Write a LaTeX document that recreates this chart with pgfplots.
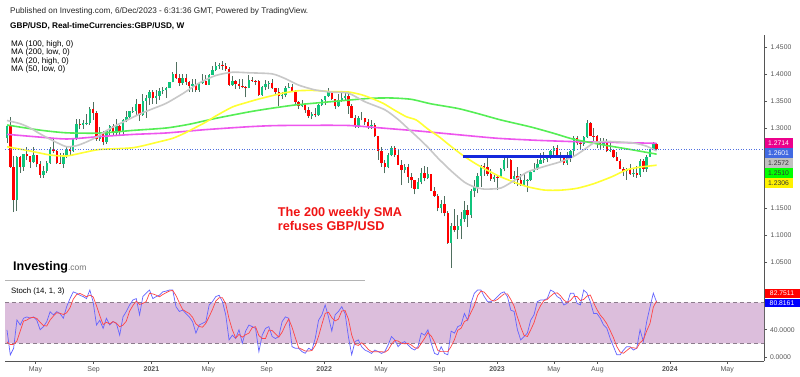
\documentclass[border=0pt]{standalone}
\usepackage{fontspec}
\setmainfont{Liberation Sans}
\usepackage{pgfplots}
\usepackage{pgfplotstable}
\pgfplotsset{compat=1.18}
\definecolor{upc}{HTML}{10C47C}
\definecolor{dnc}{HTML}{FF0000}
\definecolor{wickc}{HTML}{4F6F5F}
\definecolor{maGray}{HTML}{C8C8C8}
\definecolor{maYel}{HTML}{FFFF33}
\definecolor{maGrn}{HTML}{55EE55}
\definecolor{maMag}{HTML}{EE55EE}
\definecolor{axgray}{HTML}{555555}
\definecolor{labc}{HTML}{555555}
\definecolor{bandc}{HTML}{DCBEDC}
\definecolor{dashc}{HTML}{8C7C8C}
\definecolor{kblue}{HTML}{6464FF}
\definecolor{dred}{HTML}{FF4545}
\definecolor{pxblue}{HTML}{4169E1}
\definecolor{trend}{HTML}{1428DC}
\definecolor{dotc}{HTML}{5070E0}
\definecolor{txtred}{HTML}{F01414}
\definecolor{sepc}{HTML}{B4B4B4}

\pgfplotstableread{
w O H L C
0 1.2810 1.3065 1.2725 1.3045
1 1.3045 1.3200 1.2260 1.2280
2 1.2280 1.2480 1.1430 1.1650
3 1.1650 1.2485 1.1450 1.2460
4 1.2460 1.2480 1.2165 1.2270
5 1.2270 1.2515 1.2200 1.2510
6 1.2510 1.2650 1.2400 1.2475
7 1.2475 1.2480 1.2250 1.2370
8 1.2370 1.2645 1.2350 1.2490
9 1.2490 1.2500 1.2265 1.2335
10 1.2335 1.2375 1.2075 1.2130
11 1.2130 1.2300 1.2075 1.2205
12 1.2205 1.2390 1.2160 1.2345
13 1.2345 1.2650 1.2335 1.2600
14 1.2600 1.2813 1.2530 1.2570
15 1.2570 1.2590 1.2335 1.2350
16 1.2350 1.2540 1.2335 1.2330
17 1.2330 1.2530 1.2250 1.2470
18 1.2470 1.2670 1.2440 1.2610
19 1.2610 1.2650 1.2480 1.2570
20 1.2570 1.2810 1.2550 1.2790
21 1.2790 1.3170 1.2780 1.3080
22 1.3080 1.3170 1.2980 1.3060
23 1.3060 1.3140 1.2985 1.3090
24 1.3090 1.3265 1.3055 1.3100
25 1.3100 1.3395 1.3060 1.3350
26 1.3350 1.3482 1.3150 1.3280
27 1.3280 1.3310 1.2760 1.2790
28 1.2790 1.3010 1.2765 1.2925
29 1.2925 1.2950 1.2675 1.2745
30 1.2745 1.2950 1.2710 1.2935
31 1.2935 1.3060 1.2865 1.3045
32 1.3045 1.3080 1.2865 1.2915
33 1.2915 1.3175 1.2865 1.3040
34 1.3040 1.3060 1.2855 1.2945
35 1.2945 1.3175 1.2855 1.3150
36 1.3150 1.3310 1.3105 1.3205
37 1.3205 1.3325 1.3170 1.3310
38 1.3310 1.3400 1.3280 1.3325
39 1.3325 1.3540 1.3225 1.3440
40 1.3440 1.3455 1.3135 1.3235
41 1.3235 1.3625 1.3225 1.3510
42 1.3510 1.3620 1.3190 1.3555
43 1.3555 1.3705 1.3430 1.3680
44 1.3680 1.3705 1.3450 1.3565
45 1.3565 1.3710 1.3450 1.3605
46 1.3605 1.3745 1.3520 1.3690
47 1.3690 1.3760 1.3625 1.3700
48 1.3700 1.3760 1.3565 1.3740
49 1.3740 1.3865 1.3740 1.3850
50 1.3850 1.4050 1.3850 1.4010
51 1.4010 1.4240 1.3915 1.3925
52 1.3925 1.4015 1.3780 1.3840
53 1.3840 1.4015 1.3805 1.3935
54 1.3935 1.4000 1.3805 1.3865
55 1.3865 1.3880 1.3670 1.3785
56 1.3785 1.3920 1.3670 1.3830
57 1.3830 1.3920 1.3670 1.3705
58 1.3705 1.3855 1.3680 1.3840
59 1.3840 1.4010 1.3830 1.3875
60 1.3875 1.3995 1.3805 1.3805
61 1.3805 1.4000 1.3800 1.3990
62 1.3990 1.4165 1.3990 1.4090
63 1.4090 1.4235 1.4070 1.4150
64 1.4150 1.4220 1.4100 1.4180
65 1.4180 1.4250 1.4080 1.4155
66 1.4155 1.4220 1.4070 1.4110
67 1.4110 1.4130 1.3785 1.3805
68 1.3805 1.3975 1.3790 1.3880
69 1.3880 1.3890 1.3730 1.3830
70 1.3830 1.3910 1.3730 1.3790
71 1.3790 1.3910 1.3740 1.3760
72 1.3760 1.3780 1.3570 1.3745
73 1.3745 1.3985 1.3740 1.3900
74 1.3900 1.3960 1.3860 1.3880
75 1.3880 1.3890 1.3800 1.3870
76 1.3870 1.3890 1.3600 1.3620
77 1.3620 1.3790 1.3600 1.3760
78 1.3760 1.3890 1.3700 1.3820
79 1.3820 1.3880 1.3730 1.3840
80 1.3840 1.3910 1.3735 1.3740
81 1.3740 1.3750 1.3610 1.3680
82 1.3680 1.3750 1.3410 1.3590
83 1.3590 1.3670 1.3545 1.3610
84 1.3610 1.3775 1.3570 1.3745
85 1.3745 1.3835 1.3740 1.3760
86 1.3760 1.3830 1.3670 1.3680
87 1.3680 1.3700 1.3425 1.3490
88 1.3490 1.3510 1.3350 1.3410
89 1.3410 1.3515 1.3390 1.3440
90 1.3440 1.3445 1.3280 1.3330
91 1.3330 1.3400 1.3190 1.3230
92 1.3230 1.3300 1.3160 1.3270
93 1.3270 1.3375 1.3200 1.3235
94 1.3235 1.3440 1.3230 1.3430
95 1.3430 1.3550 1.3410 1.3530
96 1.3530 1.3600 1.3430 1.3590
97 1.3590 1.3750 1.3580 1.3680
98 1.3680 1.3685 1.3520 1.3550
99 1.3550 1.3550 1.3360 1.3405
100 1.3405 1.3630 1.3400 1.3530
101 1.3530 1.3645 1.3490 1.3565
102 1.3565 1.3645 1.3520 1.3590
103 1.3590 1.3640 1.3270 1.3410
104 1.3410 1.3440 1.3180 1.3190
105 1.3190 1.3250 1.3000 1.3030
106 1.3030 1.3215 1.3000 1.3180
107 1.3180 1.3300 1.3140 1.3180
108 1.3180 1.3180 1.3050 1.3115
109 1.3115 1.3165 1.2980 1.3040
110 1.3040 1.3145 1.2980 1.3065
111 1.3065 1.3090 1.2830 1.2845
112 1.2845 1.2850 1.2410 1.2570
113 1.2570 1.2640 1.2275 1.2340
114 1.2340 1.2400 1.2155 1.2265
115 1.2265 1.2525 1.2250 1.2490
116 1.2490 1.2665 1.2470 1.2620
117 1.2620 1.2665 1.2460 1.2490
118 1.2490 1.2600 1.2310 1.2310
119 1.2310 1.2405 1.1935 1.2220
120 1.2220 1.2325 1.2160 1.2270
121 1.2270 1.2330 1.1975 1.2095
122 1.2095 1.2165 1.1875 1.2025
123 1.2025 1.2030 1.1760 1.1870
124 1.1870 1.2065 1.1860 1.2000
125 1.2000 1.2245 1.1950 1.2165
126 1.2165 1.2295 1.2005 1.2075
127 1.2075 1.2275 1.2055 1.2135
128 1.2135 1.2145 1.1820 1.1830
129 1.1830 1.1900 1.1720 1.1730
130 1.1730 1.1760 1.1445 1.1510
131 1.1510 1.1660 1.1405 1.1590
132 1.1590 1.1740 1.1350 1.1410
133 1.1410 1.1460 1.0840 1.0855
134 1.0855 1.1235 1.0390 1.1165
135 1.1165 1.1495 1.1055 1.1090
136 1.1090 1.1380 1.0925 1.1175
137 1.1175 1.1440 1.0925 1.1300
138 1.1300 1.1645 1.1255 1.1470
139 1.1470 1.1565 1.1150 1.1380
140 1.1380 1.1855 1.1330 1.1825
141 1.1825 1.2030 1.1710 1.1890
142 1.1890 1.2155 1.1780 1.2110
143 1.2110 1.2310 1.1900 1.2285
144 1.2285 1.2345 1.2105 1.2265
145 1.2265 1.2445 1.2110 1.2150
146 1.2150 1.2240 1.2020 1.2050
147 1.2050 1.2120 1.1990 1.2095
148 1.2095 1.2130 1.1840 1.2090
149 1.2090 1.2245 1.2085 1.2230
150 1.2230 1.2435 1.2190 1.2395
151 1.2395 1.2450 1.2260 1.2395
152 1.2395 1.2420 1.2050 1.2050
153 1.2050 1.2195 1.1960 1.2110
154 1.2110 1.2270 1.1915 1.2030
155 1.2030 1.2145 1.1925 1.1945
156 1.1945 1.2145 1.1915 1.2030
157 1.2030 1.2050 1.1805 1.2035
158 1.2035 1.2205 1.2010 1.2175
159 1.2175 1.2345 1.2170 1.2235
160 1.2235 1.2425 1.2220 1.2335
161 1.2335 1.2525 1.2330 1.2410
162 1.2410 1.2545 1.2345 1.2415
163 1.2415 1.2475 1.2365 1.2445
164 1.2445 1.2585 1.2415 1.2570
165 1.2570 1.2665 1.2440 1.2635
166 1.2635 1.2680 1.2445 1.2450
167 1.2450 1.2545 1.2390 1.2445
168 1.2445 1.2470 1.2305 1.2345
169 1.2345 1.2545 1.2310 1.2450
170 1.2450 1.2595 1.2370 1.2575
171 1.2575 1.2850 1.2480 1.2820
172 1.2820 1.2845 1.2685 1.2715
173 1.2715 1.2740 1.2590 1.2695
174 1.2695 1.2850 1.2670 1.2840
175 1.2840 1.3142 1.2810 1.3090
176 1.3090 1.3115 1.2845 1.2855
177 1.2855 1.2995 1.2765 1.2850
178 1.2850 1.2870 1.2620 1.2745
179 1.2745 1.2820 1.2615 1.2690
180 1.2690 1.2815 1.2630 1.2735
181 1.2735 1.2800 1.2550 1.2580
182 1.2580 1.2745 1.2545 1.2585
183 1.2585 1.2610 1.2445 1.2465
184 1.2465 1.2550 1.2375 1.2380
185 1.2380 1.2425 1.2230 1.2240
186 1.2240 1.2270 1.2105 1.2200
187 1.2200 1.2260 1.2035 1.2240
188 1.2240 1.2335 1.2125 1.2135
189 1.2135 1.2235 1.2090 1.2165
190 1.2165 1.2290 1.2070 1.2125
191 1.2125 1.2430 1.2095 1.2375
192 1.2375 1.2430 1.2185 1.2240
193 1.2240 1.2505 1.2185 1.2460
194 1.2460 1.2615 1.2455 1.2605
195 1.2605 1.2735 1.2595 1.2705
196 1.2705 1.2720 1.2590 1.2601
}\candles

\pgfplotstableread{
w K D
0 39.7 22
1 2.8 18
2 12.6 18.4
3 54.4 23.3
4 47 38
5 57 52.8
6 59 54.3
7 57 57.7
8 59 58.3
9 54 56.7
10 40 51
11 44.6 46.2
12 52 45.5
13 66.7 54.4
14 62 60.2
15 66.7 65.1
16 64 64.2
17 57 62.6
18 74 65
19 86 72.3
20 96 85.3
21 94 92
22 91 93.7
23 89 91.3
24 86 88.7
25 98.7 91.2
26 81 88.6
27 47 75.6
28 54 60.7
29 42 47.7
30 57 51
31 47 48.7
32 52 52
33 49.5 49.5
34 32 44.5
35 59 46.8
36 67 52.7
37 76.6 67.5
38 84 75.9
39 86 82.2
40 62 77.3
41 89 79
42 94 81.7
43 98.7 93.9
44 86 92.9
45 89 91.2
46 91 88.7
47 96 92
48 97 94.7
49 98.7 97.2
50 98.7 98.1
51 74 90.5
52 67 79.9
53 69 70
54 64 66.7
55 59 64
56 52 58.3
57 35 48.7
58 47 44.7
59 49.5 43.8
60 52 49.5
61 76.6 59.4
62 81.5 70
63 89 82.4
64 91 87.2
65 81.5 87.2
66 62 78.2
67 25 56.2
68 32 39.7
69 27 28
70 40 33
71 20 29
72 38 32.7
73 47 35
74 44.6 43.2
75 42 44.5
76 7.7 31.4
77 32 27.2
78 42 27.2
79 44.6 39.5
80 30 38.9
81 27 33.9
82 30 29
83 52 36.3
84 59 47
85 57 56
86 15 43.7
87 12.6 28.2
88 12.6 13.4
89 7.7 11
90 5.2 8.5
91 12.6 8.5
92 10 9.3
93 27 16.5
94 54 30.3
95 62 47.7
96 76.6 64.2
97 59 65.9
98 38 57.9
99 62 53
100 67 55.7
101 74 67.7
102 64 68.3
103 30 56
104 3 32.3
105 22.5 18.5
106 25 16.8
107 15 20.8
108 10 16.7
109 7.7 10.9
110 5 7.6
111 10 7.6
112 7.7 7.6
113 5 7.6
114 7.7 6.8
115 17.5 10.1
116 30 18.4
117 25 24.2
118 15 23.3
119 20 20
120 22.5 19.2
121 17.5 20
122 12.6 17.5
123 10 13.4
124 15 12.5
125 35 20
126 32 27.3
127 40 35.7
128 20 30.7
129 5 21.7
130 3 9.3
131 15 7.7
132 5 7.7
133 3 7.7
134 38 15.3
135 35 25.3
136 44.6 39.2
137 47 42.2
138 64 51.9
139 54 55
140 79 65.7
141 94 75.7
142 98.7 90.6
143 98.7 97.1
144 89 95.5
145 81.5 89.7
146 81.5 84
147 84 82.3
148 89 84.8
149 94 89
150 96 93
151 89 93
152 69 84.7
153 67 75
154 40 58.7
155 25 44
156 30 31.7
157 35 30
158 54 39.7
159 62 50.3
160 81.5 65.8
161 84 75.8
162 84 83.2
163 86 84.7
164 98.7 89.6
165 96 93.6
166 89 94.6
167 86 90.3
168 76.6 83.9
169 79 80.5
170 94 83.2
171 94 89
172 79 89
173 76.6 83.2
174 98.7 84.8
175 94 89.8
176 81.5 91.4
177 64 79.8
178 64 69.8
179 57 61.7
180 47 56
181 42 48.7
182 27 38.7
183 15 28
184 3 15
185 3 7
186 10 5.3
187 15 9.3
188 15 13.3
189 10 13.3
190 12.6 12.5
191 40 20.9
192 22.5 25
193 52 38.2
194 73.5 49.3
195 94 73.2
196 80.8161 82.7511
}\stoch

\begin{document}
\begin{tikzpicture}
\fill[white] (0pt,0pt) rectangle (800pt,376pt);
\path[use as bounding box] (0pt,0pt) rectangle (800pt,376pt);
\draw[color=sepc, line width=0.8pt] (5pt,96pt) -- (365pt,96pt);

\begin{axis}[
  at={(5pt,96pt)}, anchor=south west,
  scale only axis, width=759pt, height=245pt,
  xmin=-0.6, xmax=228.4, ymin=1.0164, ymax=1.4735,
  axis x line=none, axis y line*=right,
  axis line style={draw=axgray, line width=0.7pt, -},
  ytick={1.05,1.10,1.15,1.20,1.25,1.30,1.35,1.40,1.45},
  yticklabels={1.0500,1.1000,1.1500,{},{},1.3000,1.3500,1.4000,1.4500},
  yticklabel style={font=\fontsize{6.8}{8}\selectfont, text=labc},
  tick align=outside, major tick length=3pt,
  tick style={draw=axgray, line width=0.6pt},
]
% wicks
\addplot[draw=none, mark=none, forget plot,
  error bars/.cd, y dir=plus, y explicit, error mark=none,
  error bar style={draw=wickc, line width=0.9pt, solid}]
  table[x=w, y=L, y error expr=\thisrow{H}-\thisrow{L}] {\candles};
% up bodies
\addplot[draw=none, mark=none, forget plot,
  restrict expr to domain={\thisrow{C}-\thisrow{O}}{0:1},
  error bars/.cd, y dir=plus, y explicit, error mark=none,
  error bar style={draw=upc, line width=2.4pt, solid}]
  table[x=w, y=O, y error expr=\thisrow{C}-\thisrow{O}] {\candles};
% down bodies
\addplot[draw=none, mark=none, forget plot,
  restrict expr to domain={\thisrow{O}-\thisrow{C}}{0.00001:1},
  error bars/.cd, y dir=plus, y explicit, error mark=none,
  error bar style={draw=dnc, line width=2.4pt, solid}]
  table[x=w, y=C, y error expr=\thisrow{O}-\thisrow{C}] {\candles};

% MA 200 low (magenta)
\addplot[maMag, line width=1.6pt, smooth, tension=0.4, mark=none] coordinates {
(0,1.2882) (8,1.284) (18,1.2795) (28,1.284) (38,1.288) (48,1.2907) (60,1.297) (73,1.3024) (81,1.3045) (92,1.305) (103,1.3047) (112,1.3005) (118,1.2975) (124,1.2945) (136,1.2875) (148,1.2808) (160,1.277) (172,1.2744) (184,1.273) (196,1.2714)};
% MA 100 high (green)
\addplot[maGrn, line width=1.6pt, smooth, tension=0.4, mark=none] coordinates {
(0,1.3056) (10,1.296) (18,1.291) (28,1.2905) (38,1.2955) (48,1.300) (55,1.307) (63,1.318) (73,1.330) (80,1.337) (87,1.343) (94,1.347) (103,1.352) (110,1.3555) (116,1.356) (122,1.3535) (128,1.345) (136,1.3365) (142,1.327) (149,1.315) (158,1.302) (165,1.290) (171,1.279) (180,1.2683) (188,1.260) (196,1.2512)};
% MA 50 low (yellow)
\addplot[maYel, line width=1.6pt, smooth, tension=0.4, mark=none] coordinates {
(0,1.265) (4,1.2605) (8,1.2558) (13,1.2496) (18,1.2478) (23,1.2540) (28,1.2600) (38,1.2632) (46,1.2744) (50,1.2808) (53.5,1.290) (57,1.3013) (60,1.311) (63,1.3224) (68,1.3392) (72,1.347) (76,1.3541) (83,1.3647) (88,1.3696) (93,1.370) (98,1.3677) (103,1.3672) (107,1.362) (110,1.3554) (113.5,1.346) (117,1.333) (120.5,1.321) (123.5,1.3149) (127,1.298) (130.5,1.283) (133.5,1.268) (137.5,1.249) (141.5,1.233) (145,1.221) (148.7,1.2095) (153,1.199) (157,1.1905) (162,1.1843) (167,1.184) (172,1.1875) (177,1.196) (182.5,1.2091) (187,1.2220) (191,1.2270) (196,1.2306)};
% MA 20 high (gray)
\addplot[maGray, line width=1.6pt, smooth, tension=0.4, mark=none] coordinates {
(0,1.314) (4,1.308) (7,1.300) (10,1.289) (13,1.279) (16,1.270) (18,1.265) (21,1.267) (24,1.274) (27,1.283) (30,1.295) (33,1.305) (37,1.317) (40,1.326) (44,1.336) (48,1.346) (53,1.364) (58,1.384) (63,1.398) (68,1.404) (73,1.403) (80,1.401) (84,1.392) (88,1.380) (93,1.371) (98,1.367) (103,1.365) (108,1.349) (114,1.334) (118,1.316) (121,1.299) (124,1.282) (127,1.264) (130,1.244) (134,1.220) (138,1.199) (141,1.190) (144,1.186) (149,1.188) (153,1.202) (157,1.218) (162,1.228) (167,1.237) (171,1.247) (174,1.259) (177,1.272) (180,1.275) (183,1.2745) (187,1.273) (190,1.271) (193,1.266) (196,1.2572)};
% current price line
\addplot[dotc, line width=0.6pt, dotted, mark=none] coordinates {(-0.6,1.2601) (228.4,1.2601)};
% horizontal trend line
\addplot[trend, line width=2.2pt, mark=none] coordinates {(137.7,1.2470) (170.5,1.2470)};
\end{axis}

\begin{axis}[
  at={(5pt,15pt)}, anchor=south west,
  scale only axis, width=759pt, height=81pt,
  xmin=-0.6, xmax=228.4, ymin=-6.2, ymax=113.5,
  axis x line*=bottom, axis y line*=right,
  axis line style={draw=axgray, line width=0.7pt, -},
  xtick={8.57,26.14,43.57,60.71,78.29,95.71,112.86,130.43,147.86,165,178.14,200,217.29},
  xticklabels={May,Sep,\textbf{2021},May,Sep,\textbf{2022},May,Sep,\textbf{2023},May,Aug,\textbf{2024},May},
  xticklabel style={font=\fontsize{7}{8}\selectfont, text=labc},
  ytick={0,40,80},
  yticklabels={0.0000,40.0000,{}},
  yticklabel style={font=\fontsize{6.8}{8}\selectfont, text=labc},
  tick align=outside, major tick length=2.5pt,
  tick style={draw=axgray, line width=0.6pt},
]
\addplot[draw=none, fill=bandc, mark=none, forget plot] coordinates {(-0.6,20) (228.4,20) (228.4,80) (-0.6,80) (-0.6,20)};
\addplot[dashc, line width=0.7pt, dash pattern=on 4pt off 3pt, mark=none] coordinates {(-0.6,80) (228.4,80)};
\addplot[dashc, line width=0.7pt, dash pattern=on 4pt off 3pt, mark=none] coordinates {(-0.6,20) (228.4,20)};
\addplot[kblue, line width=0.7pt, mark=none] table[x=w, y=K] {\stoch};
\addplot[dred, line width=0.7pt, mark=none] table[x=w, y=D] {\stoch};
\end{axis}

% header texts
\node[anchor=base west, inner sep=0pt, text=black!85, font=\fontsize{8.2}{10}\selectfont] at (10pt,362.7pt) {Published on Investing.com, 6/Dec/2023 - 6:31:36 GMT, Powered by TradingView.};
\node[anchor=base west, inner sep=0pt, text=black, font=\fontsize{8.2}{10}\selectfont\bfseries] at (10pt,348pt) {GBP/USD, Real-timeCurrencies:GBP/USD, W};
\node[anchor=base west, inner sep=0pt, font=\fontsize{8.1}{9}\selectfont] at (11pt,329.8pt) {MA (100, high, 0)};
\node[anchor=base west, inner sep=0pt, font=\fontsize{8.1}{9}\selectfont] at (11pt,321.3pt) {MA (200, low, 0)};
\node[anchor=base west, inner sep=0pt, font=\fontsize{8.1}{9}\selectfont] at (11pt,312.8pt) {MA (20, high, 0)};
\node[anchor=base west, inner sep=0pt, font=\fontsize{8.1}{9}\selectfont] at (11pt,304.3pt) {MA (50, low, 0)};
% annotation
\node[anchor=base west, inner sep=0pt, text=txtred, font=\fontsize{12.7}{14}\selectfont\bfseries] at (277.7pt,159.5pt) {The 200 weekly SMA};
\node[anchor=base west, inner sep=0pt, text=txtred, font=\fontsize{12.7}{14}\selectfont\bfseries] at (277.7pt,145.8pt) {refuses GBP/USD};
% logo
\node[anchor=base west, inner sep=0pt] at (13pt,106pt) {{\fontsize{12.5}{14}\selectfont\bfseries Investing}{\fontsize{8.5}{10}\selectfont\color{black!55}.com}};
% stoch label
\node[anchor=base west, inner sep=0pt, font=\fontsize{7.8}{9}\selectfont] at (11pt,83pt) {Stoch (14, 1, 3)};
% right value boxes (main)
\tikzset{rbox/.style={anchor=west, inner sep=0pt, minimum height=9.4pt, minimum width=28pt, font=\fontsize{6.8}{8}\selectfont}}
\node[rbox, fill=magenta, text=white] at (764.3pt,233.2pt) {1.2714};
\node[rbox, fill=pxblue, text=white] at (764.3pt,223pt) {1.2601};
\node[rbox, fill={rgb,255:red,192;green,192;blue,192}, text=black!80] at (764.3pt,213pt) {1.2572};
\node[rbox, fill={rgb,255:red,0;green,255;blue,0}, text=black!80] at (764.3pt,203.2pt) {1.2510};
\node[rbox, fill=yellow, text=black!80] at (764.3pt,193.2pt) {1.2306};
% right value boxes (stoch)
\node[rbox, minimum width=35pt, minimum height=8.5pt, fill=red, text=white] at (764.3pt,82.7pt) {82.7511};
\node[rbox, minimum width=35pt, minimum height=8.5pt, fill=blue, text=white] at (764.3pt,73.2pt) {80.8161};
\end{tikzpicture}
\end{document}
